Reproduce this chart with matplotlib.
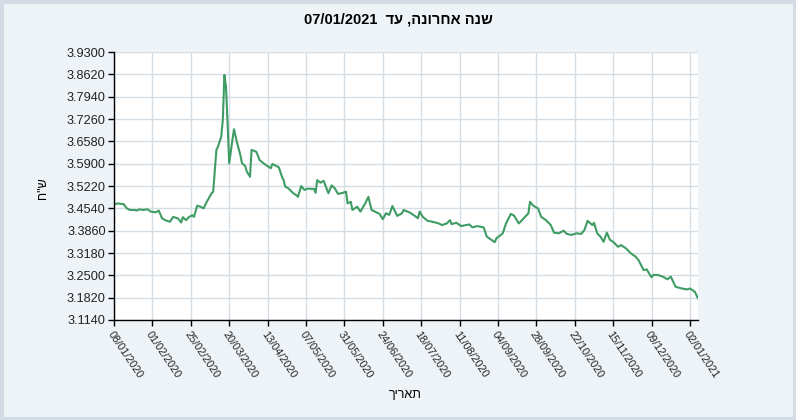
import matplotlib
matplotlib.use("Agg")
import matplotlib.pyplot as plt
from matplotlib.patches import Rectangle
import pandas as pd

# ---------------- data ----------------
dates = [
    "2020-01-08", "2020-01-10", "2020-01-14", "2020-01-16", "2020-01-18", "2020-01-21",
    "2020-01-22", "2020-01-24", "2020-01-26", "2020-01-29", "2020-01-31", "2020-02-03",
    "2020-02-05", "2020-02-07", "2020-02-09", "2020-02-12", "2020-02-14", "2020-02-17",
    "2020-02-19", "2020-02-20", "2020-02-22", "2020-02-24", "2020-02-26", "2020-02-27",
    "2020-02-29", "2020-03-02", "2020-03-04", "2020-03-06", "2020-03-09", "2020-03-10",
    "2020-03-12", "2020-03-13", "2020-03-15", "2020-03-16", "2020-03-17", "2020-03-18",
    "2020-03-19", "2020-03-20", "2020-03-22", "2020-03-23", "2020-03-25", "2020-03-27",
    "2020-03-28", "2020-03-30", "2020-03-31", "2020-04-02", "2020-04-03", "2020-04-06",
    "2020-04-08", "2020-04-11", "2020-04-15", "2020-04-16", "2020-04-20", "2020-04-22",
    "2020-04-23", "2020-04-24", "2020-04-26", "2020-04-29", "2020-05-01", "2020-05-02",
    "2020-05-04", "2020-05-06", "2020-05-08", "2020-05-12", "2020-05-13", "2020-05-14",
    "2020-05-16", "2020-05-18", "2020-05-21", "2020-05-23", "2020-05-25", "2020-05-27",
    "2020-05-30", "2020-06-01", "2020-06-02", "2020-06-04", "2020-06-05", "2020-06-08",
    "2020-06-10", "2020-06-13", "2020-06-15", "2020-06-17", "2020-06-20", "2020-06-22",
    "2020-06-24", "2020-06-26", "2020-06-28", "2020-06-30", "2020-07-03", "2020-07-06",
    "2020-07-07", "2020-07-11", "2020-07-14", "2020-07-16", "2020-07-17", "2020-07-19",
    "2020-07-22", "2020-07-26", "2020-07-29", "2020-07-31", "2020-08-03", "2020-08-05",
    "2020-08-06", "2020-08-09", "2020-08-12", "2020-08-15", "2020-08-17", "2020-08-19",
    "2020-08-22", "2020-08-26", "2020-08-28", "2020-08-30", "2020-09-02", "2020-09-03",
    "2020-09-05", "2020-09-07", "2020-09-09", "2020-09-12", "2020-09-14", "2020-09-17",
    "2020-09-19", "2020-09-23", "2020-09-24", "2020-09-26", "2020-09-29", "2020-10-01",
    "2020-10-04", "2020-10-07", "2020-10-09", "2020-10-12", "2020-10-15", "2020-10-17",
    "2020-10-20", "2020-10-23", "2020-10-26", "2020-10-28", "2020-10-30", "2020-11-02",
    "2020-11-03", "2020-11-05", "2020-11-07", "2020-11-09", "2020-11-11", "2020-11-13",
    "2020-11-15", "2020-11-18", "2020-11-20", "2020-11-23", "2020-11-26", "2020-11-29",
    "2020-12-01", "2020-12-04", "2020-12-06", "2020-12-08", "2020-12-09", "2020-12-10",
    "2020-12-13", "2020-12-16", "2020-12-19", "2020-12-21", "2020-12-24", "2020-12-28",
    "2020-12-31", "2021-01-02", "2021-01-05", "2021-01-07",
]
rates = [
    3.465, 3.469, 3.467, 3.454, 3.449, 3.449,
    3.447, 3.451, 3.449, 3.451, 3.444, 3.442,
    3.447, 3.424, 3.418, 3.413, 3.428, 3.423,
    3.411, 3.427, 3.418, 3.428, 3.433, 3.428,
    3.462, 3.459, 3.454, 3.474, 3.500, 3.505,
    3.632, 3.642, 3.672, 3.723, 3.860, 3.824,
    3.713, 3.591, 3.662, 3.695, 3.652, 3.616,
    3.591, 3.583, 3.566, 3.550, 3.632, 3.626,
    3.601, 3.589, 3.576, 3.589, 3.579, 3.550,
    3.540, 3.520, 3.515, 3.500, 3.494, 3.489,
    3.522, 3.510, 3.514, 3.513, 3.501, 3.540,
    3.532, 3.538, 3.500, 3.524, 3.515, 3.498,
    3.501, 3.505, 3.469, 3.474, 3.449, 3.459,
    3.444, 3.469, 3.489, 3.449, 3.442, 3.437,
    3.421, 3.439, 3.434, 3.461, 3.431, 3.439,
    3.449, 3.441, 3.431, 3.424, 3.444, 3.428,
    3.416, 3.412, 3.408, 3.403, 3.408, 3.418,
    3.406, 3.410, 3.400, 3.403, 3.405, 3.396,
    3.400, 3.396, 3.368, 3.361, 3.351, 3.363,
    3.370, 3.378, 3.408, 3.437, 3.432, 3.408,
    3.418, 3.439, 3.474, 3.462, 3.454, 3.428,
    3.418, 3.403, 3.380, 3.378, 3.386, 3.376,
    3.373, 3.378, 3.376, 3.388, 3.416, 3.403,
    3.410, 3.378, 3.368, 3.352, 3.380, 3.358,
    3.352, 3.337, 3.342, 3.332, 3.317, 3.307,
    3.295, 3.266, 3.268, 3.251, 3.244, 3.251,
    3.251, 3.246, 3.238, 3.246, 3.215, 3.210,
    3.207, 3.210, 3.200, 3.180,
]
y_ticks = [3.1140, 3.1820, 3.2500, 3.3180, 3.3860, 3.4540, 3.5220,
           3.5900, 3.6580, 3.7260, 3.7940, 3.8620, 3.9300]
x_tick_labels = ["08/01/2020", "01/02/2020", "25/02/2020", "20/03/2020", "13/04/2020",
                 "07/05/2020", "31/05/2020", "24/06/2020", "18/07/2020", "11/08/2020",
                 "04/09/2020", "28/09/2020", "22/10/2020", "15/11/2020", "09/12/2020",
                 "02/01/2021"]
x_start = "2020-01-08"
x_end = "2021-01-07"

title_he = "שנה אחרונה, עד"
title_date = "07/01/2021"
ylabel_he = 'ש"ח'
xlabel_he = "תאריך"

# ---------------- drawing ----------------
BG = "#EEF3F8"
GRID = "#D5DDE4"
LINE = "#3F9C64"

plt.rcParams['font.family'] = ['Liberation Sans', 'DejaVu Sans']

fig = plt.figure(figsize=(7.96, 4.20), dpi=100, facecolor=BG)
fig.patches.append(Rectangle((0, 0), 1, 1, transform=fig.transFigure, fill=False,
                             edgecolor="#D3DCE4", linewidth=5, zorder=-1))

ax = fig.add_axes([114 / 796, 1 - 320 / 420, (698 - 114) / 796, (320 - 52) / 420])
ax.set_facecolor("white")

x = pd.to_datetime(dates)
ax.plot(x, rates, color=LINE, linewidth=1.5, solid_joinstyle="round")

ax.set_xlim(pd.Timestamp(x_start), pd.Timestamp(x_end))
ax.set_ylim(y_ticks[0], y_ticks[-1])

ax.set_yticks(y_ticks)
ax.set_yticklabels([f"{v:.4f}" for v in y_ticks], fontsize=9.2, color="#222222")

xt = pd.to_datetime(x_tick_labels, format="%d/%m/%Y")
ax.set_xticks(xt)
ax.set_xticklabels(x_tick_labels, fontsize=7.8, rotation=-56, ha="left", va="top",
                   rotation_mode="anchor", color="#222222")

ax.grid(True, color=GRID, linewidth=1)
ax.set_axisbelow(True)
for s in ["top", "right"]:
    ax.spines[s].set_visible(False)
for s in ["left", "bottom"]:
    ax.spines[s].set_color("black")
    ax.spines[s].set_linewidth(1)
ax.tick_params(axis="both", direction="out", length=4, width=1, color="black")
ax.tick_params(axis="y", pad=2)
ax.tick_params(axis="x", pad=3)

# Hebrew shown right-to-left: reverse to visual order
fig.text(0.5, 1 - 20 / 420, title_date + "  " + title_he[::-1], ha="center", va="center",
         fontsize=10.5, fontweight="bold", family=['Liberation Sans Narrow', 'Liberation Sans'])
fig.text(43 / 796, 1 - 188 / 420, ylabel_he[::-1], rotation=90, ha="center", va="center",
         fontsize=9)
fig.text(405 / 796, 1 - 395 / 420, xlabel_he[::-1], ha="center", va="center", fontsize=9)

fig.savefig("out.png", dpi=100, facecolor=BG)
